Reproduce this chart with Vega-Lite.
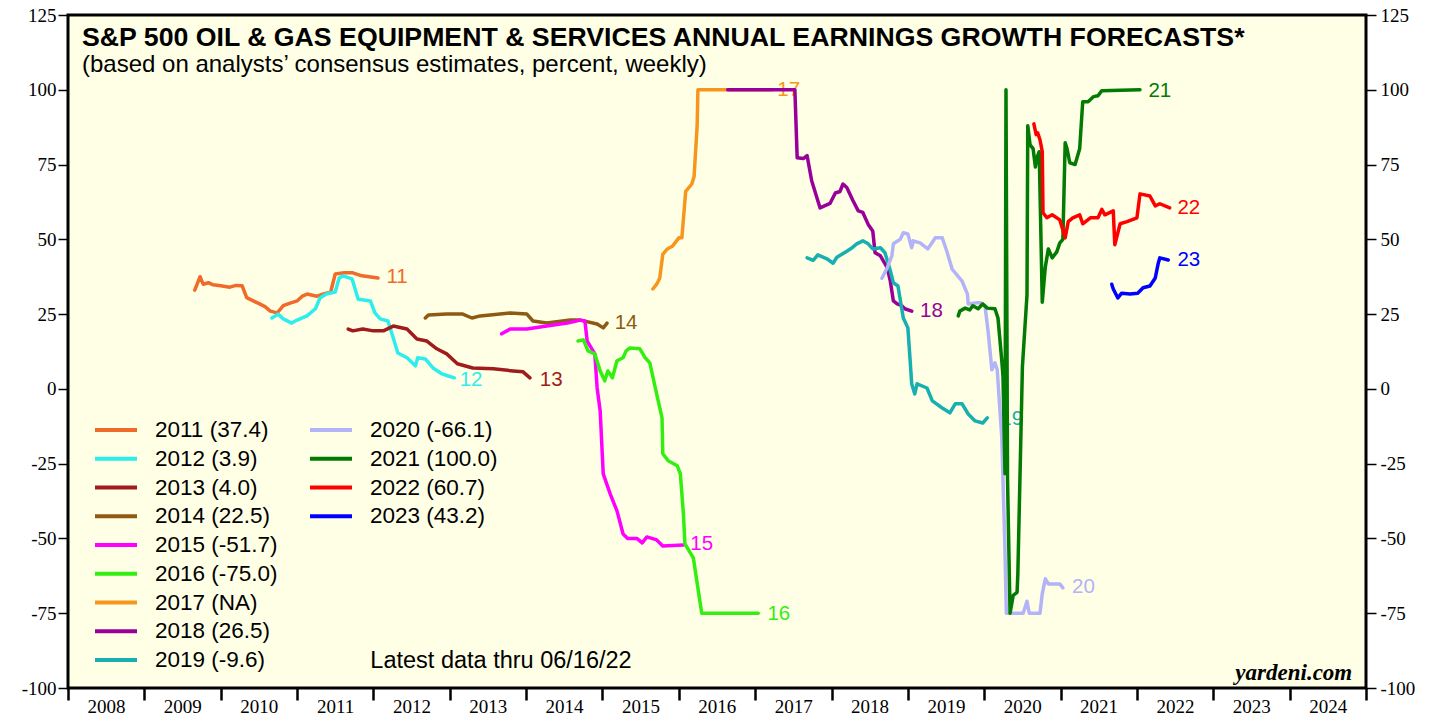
{
  "$schema": "https://vega.github.io/schema/vega-lite/v6.json",
  "width": 1298,
  "height": 673,
  "autosize": {"type": "none"},
  "padding": {"left": 68, "top": 15, "right": 73, "bottom": 31},
  "background": "white",
  "config": {
    "view": {"fill": "#FFFFE6", "stroke": "black", "strokeWidth": 3},
    "font": "Liberation Sans"
  },
  "title": {
    "text": "S&P 500 OIL & GAS EQUIPMENT & SERVICES ANNUAL EARNINGS GROWTH FORECASTS*",
    "subtitle": "(based on analysts’ consensus estimates, percent, weekly)",
    "anchor": "start",
    "orient": "top",
    "frame": "group",
    "offset": 0,
    "dx": 14,
    "dy": 71,
    "font": "Liberation Sans",
    "fontSize": 26.7,
    "fontWeight": "bold",
    "color": "black",
    "subtitleFont": "Liberation Sans",
    "subtitleFontSize": 24,
    "subtitleColor": "black",
    "subtitlePadding": 1
  },
  "datasets": {
    "pts": [
      {"s":"2011 (37.4)","x":2009.66,"y":33},{"s":"2011 (37.4)","x":2009.73,"y":37.5},{"s":"2011 (37.4)","x":2009.77,"y":35},{"s":"2011 (37.4)","x":2009.84,"y":35.5},{"s":"2011 (37.4)","x":2009.90,"y":34.8},{"s":"2011 (37.4)","x":2010.00,"y":34.5},{"s":"2011 (37.4)","x":2010.12,"y":34},{"s":"2011 (37.4)","x":2010.20,"y":34.6},{"s":"2011 (37.4)","x":2010.28,"y":34.5},{"s":"2011 (37.4)","x":2010.34,"y":30.5},{"s":"2011 (37.4)","x":2010.42,"y":29.5},{"s":"2011 (37.4)","x":2010.51,"y":28.4},{"s":"2011 (37.4)","x":2010.58,"y":27.5},{"s":"2011 (37.4)","x":2010.65,"y":26},{"s":"2011 (37.4)","x":2010.74,"y":25.4},{"s":"2011 (37.4)","x":2010.82,"y":27.8},{"s":"2011 (37.4)","x":2010.90,"y":28.6},{"s":"2011 (37.4)","x":2011.00,"y":29.4},{"s":"2011 (37.4)","x":2011.07,"y":31},{"s":"2011 (37.4)","x":2011.13,"y":31.7},{"s":"2011 (37.4)","x":2011.26,"y":31},{"s":"2011 (37.4)","x":2011.34,"y":31.7},{"s":"2011 (37.4)","x":2011.44,"y":32.4},{"s":"2011 (37.4)","x":2011.50,"y":38.4},{"s":"2011 (37.4)","x":2011.62,"y":38.8},{"s":"2011 (37.4)","x":2011.73,"y":38.8},{"s":"2011 (37.4)","x":2011.85,"y":37.8},{"s":"2011 (37.4)","x":2012.06,"y":37.1},
      {"s":"2012 (3.9)","x":2010.67,"y":23.7},{"s":"2012 (3.9)","x":2010.75,"y":25},{"s":"2012 (3.9)","x":2010.82,"y":23.4},{"s":"2012 (3.9)","x":2010.93,"y":22},{"s":"2012 (3.9)","x":2011.00,"y":23},{"s":"2012 (3.9)","x":2011.13,"y":24.4},{"s":"2012 (3.9)","x":2011.24,"y":26.8},{"s":"2012 (3.9)","x":2011.30,"y":30.4},{"s":"2012 (3.9)","x":2011.39,"y":31.8},{"s":"2012 (3.9)","x":2011.50,"y":32.4},{"s":"2012 (3.9)","x":2011.55,"y":37},{"s":"2012 (3.9)","x":2011.60,"y":37.8},{"s":"2012 (3.9)","x":2011.72,"y":36.8},{"s":"2012 (3.9)","x":2011.80,"y":30},{"s":"2012 (3.9)","x":2011.96,"y":29.4},{"s":"2012 (3.9)","x":2012.02,"y":25.4},{"s":"2012 (3.9)","x":2012.09,"y":23.4},{"s":"2012 (3.9)","x":2012.19,"y":22.7},{"s":"2012 (3.9)","x":2012.26,"y":17},{"s":"2012 (3.9)","x":2012.32,"y":12},{"s":"2012 (3.9)","x":2012.44,"y":10.4},{"s":"2012 (3.9)","x":2012.55,"y":7.7},{"s":"2012 (3.9)","x":2012.58,"y":10.4},{"s":"2012 (3.9)","x":2012.68,"y":10},{"s":"2012 (3.9)","x":2012.78,"y":7},{"s":"2012 (3.9)","x":2012.90,"y":5},{"s":"2012 (3.9)","x":2012.98,"y":4.3},{"s":"2012 (3.9)","x":2013.06,"y":3.7},
      {"s":"2013 (4.0)","x":2011.67,"y":20},{"s":"2013 (4.0)","x":2011.73,"y":19.4},{"s":"2013 (4.0)","x":2011.86,"y":20},{"s":"2013 (4.0)","x":2012.00,"y":19.4},{"s":"2013 (4.0)","x":2012.13,"y":19.4},{"s":"2013 (4.0)","x":2012.26,"y":21},{"s":"2013 (4.0)","x":2012.44,"y":20},{"s":"2013 (4.0)","x":2012.57,"y":16.7},{"s":"2013 (4.0)","x":2012.70,"y":16},{"s":"2013 (4.0)","x":2012.83,"y":13.4},{"s":"2013 (4.0)","x":2012.96,"y":11.7},{"s":"2013 (4.0)","x":2013.10,"y":8.4},{"s":"2013 (4.0)","x":2013.30,"y":7},{"s":"2013 (4.0)","x":2013.57,"y":6.7},{"s":"2013 (4.0)","x":2013.83,"y":6},{"s":"2013 (4.0)","x":2013.96,"y":5.7},{"s":"2013 (4.0)","x":2014.05,"y":3.7},
      {"s":"2014 (22.5)","x":2012.68,"y":23.7},{"s":"2014 (22.5)","x":2012.72,"y":24.7},{"s":"2014 (22.5)","x":2012.96,"y":25},{"s":"2014 (22.5)","x":2013.17,"y":25},{"s":"2014 (22.5)","x":2013.29,"y":23.7},{"s":"2014 (22.5)","x":2013.40,"y":24.4},{"s":"2014 (22.5)","x":2013.79,"y":25.4},{"s":"2014 (22.5)","x":2014.01,"y":25},{"s":"2014 (22.5)","x":2014.09,"y":22.7},{"s":"2014 (22.5)","x":2014.27,"y":22},{"s":"2014 (22.5)","x":2014.58,"y":23},{"s":"2014 (22.5)","x":2014.71,"y":23},{"s":"2014 (22.5)","x":2014.93,"y":21.7},{"s":"2014 (22.5)","x":2015.01,"y":20.4},{"s":"2014 (22.5)","x":2015.06,"y":22},
      {"s":"2015 (-51.7)","x":2013.68,"y":18.4},{"s":"2015 (-51.7)","x":2013.79,"y":20},{"s":"2015 (-51.7)","x":2014.01,"y":20},{"s":"2015 (-51.7)","x":2014.27,"y":21},{"s":"2015 (-51.7)","x":2014.54,"y":22},{"s":"2015 (-51.7)","x":2014.71,"y":23},{"s":"2015 (-51.7)","x":2014.77,"y":22.7},{"s":"2015 (-51.7)","x":2014.80,"y":16},{"s":"2015 (-51.7)","x":2014.90,"y":11.7},{"s":"2015 (-51.7)","x":2014.93,"y":0.3},{"s":"2015 (-51.7)","x":2014.97,"y":-7.4},{"s":"2015 (-51.7)","x":2015.01,"y":-28.4},{"s":"2015 (-51.7)","x":2015.10,"y":-35},{"s":"2015 (-51.7)","x":2015.19,"y":-40.8},{"s":"2015 (-51.7)","x":2015.27,"y":-48.5},{"s":"2015 (-51.7)","x":2015.33,"y":-50},{"s":"2015 (-51.7)","x":2015.45,"y":-50},{"s":"2015 (-51.7)","x":2015.52,"y":-51.5},{"s":"2015 (-51.7)","x":2015.58,"y":-49.5},{"s":"2015 (-51.7)","x":2015.71,"y":-50.5},{"s":"2015 (-51.7)","x":2015.79,"y":-52.5},{"s":"2015 (-51.7)","x":2016.06,"y":-52.2},
      {"s":"2016 (-75.0)","x":2014.68,"y":16},{"s":"2016 (-75.0)","x":2014.75,"y":16.4},{"s":"2016 (-75.0)","x":2014.81,"y":12.7},{"s":"2016 (-75.0)","x":2014.90,"y":11.7},{"s":"2016 (-75.0)","x":2014.97,"y":6},{"s":"2016 (-75.0)","x":2015.03,"y":2.7},{"s":"2016 (-75.0)","x":2015.07,"y":6},{"s":"2016 (-75.0)","x":2015.13,"y":3.7},{"s":"2016 (-75.0)","x":2015.19,"y":9.4},{"s":"2016 (-75.0)","x":2015.27,"y":10.4},{"s":"2016 (-75.0)","x":2015.31,"y":12.7},{"s":"2016 (-75.0)","x":2015.36,"y":13.7},{"s":"2016 (-75.0)","x":2015.49,"y":13.4},{"s":"2016 (-75.0)","x":2015.56,"y":10.4},{"s":"2016 (-75.0)","x":2015.62,"y":8.7},{"s":"2016 (-75.0)","x":2015.73,"y":-4},{"s":"2016 (-75.0)","x":2015.78,"y":-9.7},{"s":"2016 (-75.0)","x":2015.79,"y":-21.7},{"s":"2016 (-75.0)","x":2015.86,"y":-24},{"s":"2016 (-75.0)","x":2015.98,"y":-25.7},{"s":"2016 (-75.0)","x":2016.02,"y":-28.4},{"s":"2016 (-75.0)","x":2016.06,"y":-41.8},{"s":"2016 (-75.0)","x":2016.08,"y":-51.8},{"s":"2016 (-75.0)","x":2016.19,"y":-56.5},{"s":"2016 (-75.0)","x":2016.30,"y":-75},{"s":"2016 (-75.0)","x":2017.04,"y":-75},
      {"s":"2017 (NA)","x":2015.66,"y":33.4},{"s":"2017 (NA)","x":2015.71,"y":35},{"s":"2017 (NA)","x":2015.75,"y":37},{"s":"2017 (NA)","x":2015.79,"y":45},{"s":"2017 (NA)","x":2015.85,"y":46.8},{"s":"2017 (NA)","x":2015.92,"y":47.8},{"s":"2017 (NA)","x":2016.00,"y":50.5},{"s":"2017 (NA)","x":2016.04,"y":50.5},{"s":"2017 (NA)","x":2016.09,"y":66},{"s":"2017 (NA)","x":2016.17,"y":68.5},{"s":"2017 (NA)","x":2016.20,"y":71},{"s":"2017 (NA)","x":2016.24,"y":88},{"s":"2017 (NA)","x":2016.25,"y":100},{"s":"2017 (NA)","x":2017.22,"y":100},
      {"s":"2018 (26.5)","x":2016.64,"y":100},{"s":"2018 (26.5)","x":2017.52,"y":100},{"s":"2018 (26.5)","x":2017.55,"y":77.3},{"s":"2018 (26.5)","x":2017.63,"y":77},{"s":"2018 (26.5)","x":2017.68,"y":78},{"s":"2018 (26.5)","x":2017.74,"y":69.6},{"s":"2018 (26.5)","x":2017.85,"y":60.5},{"s":"2018 (26.5)","x":2017.98,"y":62},{"s":"2018 (26.5)","x":2018.05,"y":65.5},{"s":"2018 (26.5)","x":2018.11,"y":66},{"s":"2018 (26.5)","x":2018.15,"y":68.5},{"s":"2018 (26.5)","x":2018.20,"y":67.3},{"s":"2018 (26.5)","x":2018.28,"y":63},{"s":"2018 (26.5)","x":2018.35,"y":59.5},{"s":"2018 (26.5)","x":2018.41,"y":59},{"s":"2018 (26.5)","x":2018.48,"y":55},{"s":"2018 (26.5)","x":2018.54,"y":52.8},{"s":"2018 (26.5)","x":2018.57,"y":45.5},{"s":"2018 (26.5)","x":2018.64,"y":44.5},{"s":"2018 (26.5)","x":2018.73,"y":40.5},{"s":"2018 (26.5)","x":2018.77,"y":36},{"s":"2018 (26.5)","x":2018.81,"y":29.4},{"s":"2018 (26.5)","x":2018.86,"y":28.4},{"s":"2018 (26.5)","x":2018.92,"y":27.8},{"s":"2018 (26.5)","x":2018.96,"y":26.8},{"s":"2018 (26.5)","x":2019.05,"y":26},
      {"s":"2019 (-9.6)","x":2017.68,"y":43.8},{"s":"2019 (-9.6)","x":2017.76,"y":43},{"s":"2019 (-9.6)","x":2017.82,"y":44.8},{"s":"2019 (-9.6)","x":2017.94,"y":43.5},{"s":"2019 (-9.6)","x":2018.02,"y":42},{"s":"2019 (-9.6)","x":2018.07,"y":44},{"s":"2019 (-9.6)","x":2018.20,"y":46},{"s":"2019 (-9.6)","x":2018.27,"y":47.2},{"s":"2019 (-9.6)","x":2018.33,"y":48.5},{"s":"2019 (-9.6)","x":2018.41,"y":49.5},{"s":"2019 (-9.6)","x":2018.48,"y":48.5},{"s":"2019 (-9.6)","x":2018.54,"y":46.8},{"s":"2019 (-9.6)","x":2018.64,"y":47.2},{"s":"2019 (-9.6)","x":2018.70,"y":45.5},{"s":"2019 (-9.6)","x":2018.77,"y":39.5},{"s":"2019 (-9.6)","x":2018.81,"y":35.5},{"s":"2019 (-9.6)","x":2018.87,"y":34.4},{"s":"2019 (-9.6)","x":2018.94,"y":23.7},{"s":"2019 (-9.6)","x":2019.00,"y":20.4},{"s":"2019 (-9.6)","x":2019.03,"y":9.4},{"s":"2019 (-9.6)","x":2019.05,"y":1.7},{"s":"2019 (-9.6)","x":2019.09,"y":-1.7},{"s":"2019 (-9.6)","x":2019.12,"y":1.7},{"s":"2019 (-9.6)","x":2019.25,"y":0.3},{"s":"2019 (-9.6)","x":2019.32,"y":-4},{"s":"2019 (-9.6)","x":2019.45,"y":-6.4},{"s":"2019 (-9.6)","x":2019.55,"y":-8},{"s":"2019 (-9.6)","x":2019.62,"y":-5},{"s":"2019 (-9.6)","x":2019.71,"y":-5},{"s":"2019 (-9.6)","x":2019.79,"y":-8.4},{"s":"2019 (-9.6)","x":2019.88,"y":-10.7},{"s":"2019 (-9.6)","x":2019.98,"y":-11.4},{"s":"2019 (-9.6)","x":2020.04,"y":-9.7},
      {"s":"2020 (-66.1)","x":2018.66,"y":37},{"s":"2020 (-66.1)","x":2018.73,"y":40.5},{"s":"2020 (-66.1)","x":2018.79,"y":44.5},{"s":"2020 (-66.1)","x":2018.81,"y":48.5},{"s":"2020 (-66.1)","x":2018.90,"y":50},{"s":"2020 (-66.1)","x":2018.94,"y":52.2},{"s":"2020 (-66.1)","x":2019.00,"y":51.8},{"s":"2020 (-66.1)","x":2019.05,"y":47.2},{"s":"2020 (-66.1)","x":2019.07,"y":49.5},{"s":"2020 (-66.1)","x":2019.16,"y":48.8},{"s":"2020 (-66.1)","x":2019.26,"y":46.8},{"s":"2020 (-66.1)","x":2019.36,"y":50.5},{"s":"2020 (-66.1)","x":2019.45,"y":50.5},{"s":"2020 (-66.1)","x":2019.51,"y":46},{"s":"2020 (-66.1)","x":2019.58,"y":40},{"s":"2020 (-66.1)","x":2019.71,"y":36},{"s":"2020 (-66.1)","x":2019.78,"y":31.7},{"s":"2020 (-66.1)","x":2019.79,"y":28.4},{"s":"2020 (-66.1)","x":2019.91,"y":28.8},{"s":"2020 (-66.1)","x":2019.95,"y":28.8},{"s":"2020 (-66.1)","x":2020.01,"y":27.8},{"s":"2020 (-66.1)","x":2020.05,"y":19.4},{"s":"2020 (-66.1)","x":2020.10,"y":6.4},{"s":"2020 (-66.1)","x":2020.14,"y":8.7},{"s":"2020 (-66.1)","x":2020.17,"y":6.4},{"s":"2020 (-66.1)","x":2020.23,"y":-16.4},{"s":"2020 (-66.1)","x":2020.27,"y":-52.2},{"s":"2020 (-66.1)","x":2020.29,"y":-75},{"s":"2020 (-66.1)","x":2020.51,"y":-75},{"s":"2020 (-66.1)","x":2020.56,"y":-71},{"s":"2020 (-66.1)","x":2020.59,"y":-75},{"s":"2020 (-66.1)","x":2020.73,"y":-75},{"s":"2020 (-66.1)","x":2020.76,"y":-68.5},{"s":"2020 (-66.1)","x":2020.80,"y":-63.5},{"s":"2020 (-66.1)","x":2020.84,"y":-65.2},{"s":"2020 (-66.1)","x":2020.99,"y":-65.2},{"s":"2020 (-66.1)","x":2021.03,"y":-66.5},
      {"s":"2021 (100.0)","x":2019.66,"y":24.4},{"s":"2021 (100.0)","x":2019.68,"y":26},{"s":"2021 (100.0)","x":2019.75,"y":27},{"s":"2021 (100.0)","x":2019.81,"y":26.4},{"s":"2021 (100.0)","x":2019.85,"y":27.8},{"s":"2021 (100.0)","x":2019.92,"y":26.8},{"s":"2021 (100.0)","x":2019.98,"y":28.4},{"s":"2021 (100.0)","x":2020.04,"y":27},{"s":"2021 (100.0)","x":2020.14,"y":26.8},{"s":"2021 (100.0)","x":2020.18,"y":23.7},{"s":"2021 (100.0)","x":2020.23,"y":9.4},{"s":"2021 (100.0)","x":2020.246,"y":4},{"s":"2021 (100.0)","x":2020.272,"y":-28.4},{"s":"2021 (100.0)","x":2020.285,"y":100},{"s":"2021 (100.0)","x":2020.305,"y":-30},{"s":"2021 (100.0)","x":2020.338,"y":-75},{"s":"2021 (100.0)","x":2020.38,"y":-69},{"s":"2021 (100.0)","x":2020.43,"y":-68},{"s":"2021 (100.0)","x":2020.44,"y":-62},{"s":"2021 (100.0)","x":2020.50,"y":7.4},{"s":"2021 (100.0)","x":2020.56,"y":31.4},{"s":"2021 (100.0)","x":2020.57,"y":88},{"s":"2021 (100.0)","x":2020.60,"y":81.6},{"s":"2021 (100.0)","x":2020.64,"y":80.3},{"s":"2021 (100.0)","x":2020.67,"y":74.2},{"s":"2021 (100.0)","x":2020.69,"y":77.3},{"s":"2021 (100.0)","x":2020.72,"y":79.3},{"s":"2021 (100.0)","x":2020.76,"y":29},{"s":"2021 (100.0)","x":2020.80,"y":40.8},{"s":"2021 (100.0)","x":2020.84,"y":46.8},{"s":"2021 (100.0)","x":2020.89,"y":43.8},{"s":"2021 (100.0)","x":2020.95,"y":45.8},{"s":"2021 (100.0)","x":2020.99,"y":48.8},{"s":"2021 (100.0)","x":2021.03,"y":50},{"s":"2021 (100.0)","x":2021.06,"y":82.3},{"s":"2021 (100.0)","x":2021.085,"y":80.3},{"s":"2021 (100.0)","x":2021.12,"y":75.6},{"s":"2021 (100.0)","x":2021.19,"y":75},{"s":"2021 (100.0)","x":2021.25,"y":80.3},{"s":"2021 (100.0)","x":2021.29,"y":96},{"s":"2021 (100.0)","x":2021.36,"y":96},{"s":"2021 (100.0)","x":2021.43,"y":97.7},{"s":"2021 (100.0)","x":2021.49,"y":98},{"s":"2021 (100.0)","x":2021.54,"y":99.7},{"s":"2021 (100.0)","x":2022.04,"y":100},
      {"s":"2022 (60.7)","x":2020.65,"y":88.6},{"s":"2022 (60.7)","x":2020.68,"y":85},{"s":"2022 (60.7)","x":2020.70,"y":85.6},{"s":"2022 (60.7)","x":2020.73,"y":83.3},{"s":"2022 (60.7)","x":2020.76,"y":79.3},{"s":"2022 (60.7)","x":2020.77,"y":58.9},{"s":"2022 (60.7)","x":2020.82,"y":57.2},{"s":"2022 (60.7)","x":2020.89,"y":58.2},{"s":"2022 (60.7)","x":2020.99,"y":56.5},{"s":"2022 (60.7)","x":2021.06,"y":50.5},{"s":"2022 (60.7)","x":2021.10,"y":55.9},{"s":"2022 (60.7)","x":2021.16,"y":57.2},{"s":"2022 (60.7)","x":2021.25,"y":58.2},{"s":"2022 (60.7)","x":2021.29,"y":55.2},{"s":"2022 (60.7)","x":2021.39,"y":57.2},{"s":"2022 (60.7)","x":2021.49,"y":57.2},{"s":"2022 (60.7)","x":2021.54,"y":60},{"s":"2022 (60.7)","x":2021.58,"y":58.2},{"s":"2022 (60.7)","x":2021.69,"y":59.5},{"s":"2022 (60.7)","x":2021.71,"y":48.2},{"s":"2022 (60.7)","x":2021.78,"y":55.2},{"s":"2022 (60.7)","x":2021.87,"y":55.9},{"s":"2022 (60.7)","x":2022.00,"y":57.2},{"s":"2022 (60.7)","x":2022.04,"y":65.2},{"s":"2022 (60.7)","x":2022.17,"y":64.5},{"s":"2022 (60.7)","x":2022.24,"y":61.2},{"s":"2022 (60.7)","x":2022.30,"y":61.9},{"s":"2022 (60.7)","x":2022.43,"y":60.5},
      {"s":"2023 (43.2)","x":2021.67,"y":35},{"s":"2023 (43.2)","x":2021.69,"y":33.4},{"s":"2023 (43.2)","x":2021.75,"y":30.4},{"s":"2023 (43.2)","x":2021.80,"y":32},{"s":"2023 (43.2)","x":2021.91,"y":31.7},{"s":"2023 (43.2)","x":2022.01,"y":32},{"s":"2023 (43.2)","x":2022.08,"y":33.8},{"s":"2023 (43.2)","x":2022.17,"y":34.4},{"s":"2023 (43.2)","x":2022.24,"y":37.1},{"s":"2023 (43.2)","x":2022.28,"y":42.1},{"s":"2023 (43.2)","x":2022.30,"y":43.8},{"s":"2023 (43.2)","x":2022.41,"y":43.1}
    ],
    "lbl": [
      {"t":"11","x":2012.17,"y":37.3},{"t":"12","x":2013.13,"y":3},{"t":"13","x":2014.18,"y":3},{"t":"14","x":2015.16,"y":22},{"t":"15","x":2016.15,"y":-52},{"t":"16","x":2017.16,"y":-75.3},{"t":"17","x":2017.29,"y":100},{"t":"18","x":2019.16,"y":26},{"t":"19","x":2020.21,"y":-10},{"t":"20","x":2021.15,"y":-66.3},{"t":"21","x":2022.15,"y":99.7},{"t":"22","x":2022.53,"y":60.5},{"t":"23","x":2022.53,"y":43}
    ],
    "notes": [
      {"note": "Latest data thru 06/16/22", "x": 2011.96, "y": -91}
    ],
    "brand": [
      {"note": "yardeni.com", "x": 2024.82, "y": -95}
    ]
  },
  "resolve": {"axis": {"y": "independent"}},
  "layer": [
    {
      "mark": {"type": "rule", "color": "black", "strokeWidth": 1},
      "encoding": {
        "y": {"datum": 0, "type": "quantitative", "axis": null, "scale": {"domain": [-100, 125], "nice": false, "zero": false}}
      }
    },
    {
      "data": {"name": "lbl"},
      "mark": {"type": "text", "align": "left", "baseline": "middle", "font": "Liberation Sans", "fontSize": 20.5},
      "encoding": {
        "x": {"field": "x", "type": "quantitative", "title": null},
        "y": {"field": "y", "type": "quantitative", "axis": null},
        "text": {"field": "t"},
        "fill": {"field": "t", "type": "nominal", "legend": null,
          "scale": {"domain": ["11","12","13","14","15","16","17","18","19","20","21","22","23"],
            "range": ["#F06A2A","#2DEDED","#A01C1C","#8C5A12","#FF00FF","#33EE11","#F7961C","#990099","#17AFAF","#B3B3F8","#037A03","#FF0000","#0000FF"]}}
      }
    },
    {
      "data": {"name": "pts"},
      "transform": [{"filter": {"field": "s", "oneOf": ["2011 (37.4)","2012 (3.9)","2013 (4.0)","2014 (22.5)","2015 (-51.7)","2016 (-75.0)","2017 (NA)","2018 (26.5)","2019 (-9.6)"]}}],
      "mark": {"type": "line", "strokeWidth": 3.5, "strokeJoin": "round", "strokeCap": "round"},
      "encoding": {
        "x": {"field": "x", "type": "quantitative", "title": null,
          "scale": {"domain": [2008, 2025], "nice": false, "zero": false},
          "axis": {"values": [2008,2009,2010,2011,2012,2013,2014,2015,2016,2017,2018,2019,2020,2021,2022,2023,2024,2025],
            "format": "d", "labelExpr": "datum.value == 2025 ? '' : datum.label",
            "labelOffset": 38, "labelFlush": false, "labelOverlap": false, "domain": false, "grid": false,
            "tickSize": 12, "tickWidth": 2.5, "tickColor": "black",
            "labelFont": "Liberation Serif", "labelFontSize": 19, "labelColor": "black", "labelPadding": -3}},
        "y": {"field": "y", "type": "quantitative", "title": null,
          "axis": {"orient": "left", "values": [-100,-75,-50,-25,0,25,50,75,100,125], "labelExpr": "'' + datum.value", "domain": false, "grid": false,
            "tickSize": 10, "tickWidth": 1.5, "tickColor": "black",
            "labelFont": "Liberation Serif", "labelFontSize": 19, "labelColor": "black", "labelPadding": 2}},
        "color": {"field": "s", "type": "nominal",
          "scale": {"domain": ["2011 (37.4)","2012 (3.9)","2013 (4.0)","2014 (22.5)","2015 (-51.7)","2016 (-75.0)","2017 (NA)","2018 (26.5)","2019 (-9.6)"],
            "range": ["#F06A2A","#2DEDED","#A01C1C","#8C5A12","#FF00FF","#33EE11","#F7961C","#990099","#17AFAF"]},
          "legend": {"orient": "none", "legendX": 35.5, "legendY": 402.5, "title": null, "direction": "vertical",
            "symbolType": "M-2,0H2", "symbolSize": 441, "symbolStrokeWidth": 4,
            "labelFont": "Liberation Sans", "labelFontSize": 22.5, "labelColor": "black", "labelOffset": 26.5, "labelLimit": 300,
            "rowPadding": 4.75}}
      }
    },
    {
      "data": {"name": "pts"},
      "transform": [{"filter": {"field": "s", "oneOf": ["2020 (-66.1)","2021 (100.0)","2022 (60.7)","2023 (43.2)"]}}],
      "mark": {"type": "line", "strokeWidth": 3.5, "strokeJoin": "round", "strokeCap": "round"},
      "encoding": {
        "x": {"field": "x", "type": "quantitative", "title": null},
        "y": {"field": "y", "type": "quantitative", "title": null,
          "axis": {"orient": "right", "values": [-100,-75,-50,-25,0,25,50,75,100,125], "labelExpr": "'' + datum.value", "domain": false, "grid": false,
            "tickSize": 10, "tickWidth": 1.5, "tickColor": "black",
            "labelFont": "Liberation Serif", "labelFontSize": 19, "labelColor": "black", "labelPadding": 4}},
        "stroke": {"field": "s", "type": "nominal",
          "scale": {"domain": ["2020 (-66.1)","2021 (100.0)","2022 (60.7)","2023 (43.2)"],
            "range": ["#B3B3F8","#037A03","#FF0000","#0000FF"]},
          "legend": {"orient": "none", "legendX": 250.5, "legendY": 402.5, "title": null, "direction": "vertical",
            "symbolType": "M-2,0H2", "symbolSize": 441, "symbolStrokeWidth": 4,
            "labelFont": "Liberation Sans", "labelFontSize": 22.5, "labelColor": "black", "labelOffset": 26.5, "labelLimit": 300,
            "rowPadding": 4.75}}
      }
    },
    {
      "data": {"name": "notes"},
      "mark": {"type": "text", "align": "left", "baseline": "middle", "font": "Liberation Sans", "fontSize": 23.5, "color": "black"},
      "encoding": {
        "x": {"field": "x", "type": "quantitative", "title": null},
        "y": {"field": "y", "type": "quantitative", "axis": null},
        "text": {"field": "note"}
      }
    },
    {
      "data": {"name": "brand"},
      "mark": {"type": "text", "align": "right", "baseline": "middle", "font": "Liberation Serif", "fontSize": 23, "fontWeight": "bold", "fontStyle": "italic", "color": "black"},
      "encoding": {
        "x": {"field": "x", "type": "quantitative", "title": null},
        "y": {"field": "y", "type": "quantitative", "axis": null},
        "text": {"field": "note"}
      }
    }
  ]
}
